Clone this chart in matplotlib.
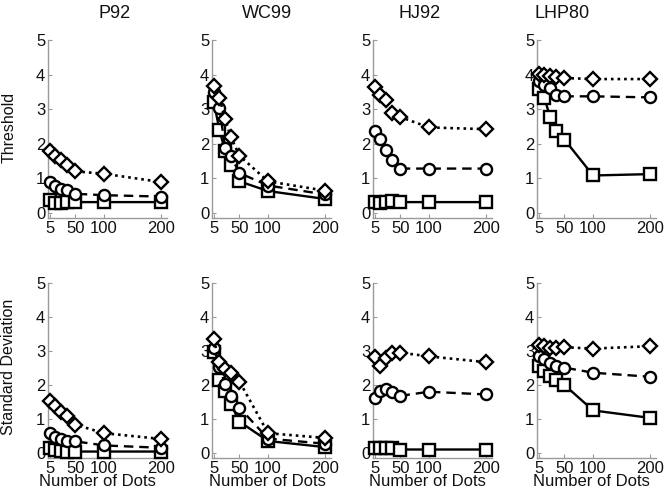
import matplotlib
matplotlib.use("Agg")
import matplotlib.pyplot as plt

plt.rcParams['font.family'] = ['Liberation Sans', 'DejaVu Sans']

x_dots = [5, 15, 25, 35, 50, 100, 200]
studies = ["P92", "WC99", "HJ92", "LHP80"]
row_labels = ["Threshold", "Standard Deviation"]
x_label = "Number of Dots"
x_ticks = [5, 50, 100, 200]
y_ticks = [0, 1, 2, 3, 4, 5]

# Threshold row
thr_square = {
    "P92":   [0.36, 0.27, 0.27, 0.31, 0.31, 0.31, 0.31],
    "WC99":  [3.22, 2.40, 1.78, 1.38, 0.91, 0.63, 0.40],
    "HJ92":  [0.31, 0.27, 0.31, 0.33, 0.31, 0.31, 0.31],
    "LHP80": [3.58, 3.32, 2.77, 2.38, 2.12, 1.08, 1.12],
}
thr_circle = {
    "P92":   [0.88, 0.77, 0.70, 0.66, 0.55, 0.51, 0.47],
    "WC99":  [3.50, 3.03, 1.88, 1.63, 1.15, 0.79, 0.53],
    "HJ92":  [2.36, 2.13, 1.83, 1.52, 1.28, 1.28, 1.28],
    "LHP80": [3.80, 3.70, 3.60, 3.41, 3.37, 3.37, 3.34],
}
thr_diamond = {
    "P92":   [1.78, 1.65, 1.54, 1.38, 1.20, 1.13, 0.89],
    "WC99":  [3.67, 3.32, 2.71, 2.19, 1.65, 0.91, 0.64],
    "HJ92":  [3.63, 3.42, 3.27, 2.90, 2.77, 2.47, 2.42],
    "LHP80": [4.02, 3.99, 3.96, 3.93, 3.90, 3.87, 3.87],
}
# Standard deviation row
sd_square = {
    "P92":   [0.14, 0.10, 0.07, 0.04, 0.04, 0.04, 0.04],
    "WC99":  [2.96, 2.15, 1.83, 1.44, 0.92, 0.35, 0.17],
    "HJ92":  [0.13, 0.13, 0.13, 0.13, 0.10, 0.10, 0.10],
    "LHP80": [2.56, 2.41, 2.27, 2.14, 2.00, 1.25, 1.03],
}
sd_circle = {
    "P92":   [0.60, 0.46, 0.40, 0.36, 0.34, 0.22, 0.15],
    "WC99":  [3.10, 2.52, 2.02, 1.67, 1.33, 0.42, 0.27],
    "HJ92":  [1.63, 1.82, 1.88, 1.78, 1.68, 1.80, 1.72],
    "LHP80": [2.85, 2.75, 2.65, 2.56, 2.51, 2.36, 2.24],
}
sd_diamond = {
    "P92":   [1.53, 1.39, 1.19, 1.09, 0.83, 0.58, 0.41],
    "WC99":  [3.35, 2.67, 2.48, 2.34, 2.10, 0.58, 0.44],
    "HJ92":  [2.82, 2.56, 2.78, 2.93, 2.95, 2.84, 2.67],
    "LHP80": [3.19, 3.14, 3.09, 3.09, 3.11, 3.07, 3.14],
}

rows = [(thr_square, thr_circle, thr_diamond), (sd_square, sd_circle, sd_diamond)]

W, H = 669, 499
fig = plt.figure(figsize=(W / 100, H / 100), dpi=100)

lefts_px = [48, 212, 373, 537]
width_px = 119
row_px = [(40, 218), (283, 458)]
title_x_px = [115, 267, 420, 562]
xlabel_x_px = [97, 267, 427, 591]
ylabel_y_px = [127, 367]

spine_col = "#9a9a9a"
text_col = "#111111"

for r, (sq, ci, di) in enumerate(rows):
    top, bot = row_px[r]
    for c, st in enumerate(studies):
        ax = fig.add_axes([lefts_px[c] / W, 1 - bot / H, width_px / W, (bot - top) / H])
        ax.plot(x_dots, sq[st], color='black', ls='-', lw=1.7, marker='s', ms=8,
                mfc='white', mec='black', mew=1.7, zorder=3, clip_on=False)
        ax.plot(x_dots, ci[st], color='black', ls=(0, (4, 2.5)), lw=1.7, marker='o', ms=8,
                mfc='white', mec='black', mew=1.7, zorder=4, clip_on=False)
        ax.plot(x_dots, di[st], color='black', ls=(0, (1, 1.5)), lw=1.9, marker='D', ms=7,
                mfc='white', mec='black', mew=1.7, zorder=5, clip_on=False)
        ax.set_xlim(2, 210)
        ax.set_ylim(-0.15, 5)
        ax.set_xticks(x_ticks)
        ax.set_yticks(y_ticks)
        for s in ['top', 'right']:
            ax.spines[s].set_visible(False)
        for s in ['left', 'bottom']:
            ax.spines[s].set_color(spine_col)
            ax.spines[s].set_linewidth(1.0)
        ax.tick_params(direction='in', length=3, color=spine_col, labelsize=12,
                       labelcolor=text_col, pad=2)
        if r == 0:
            fig.text(title_x_px[c] / W, 1 - 14 / H, st, ha='center', va='center',
                     fontsize=13, color=text_col)
        else:
            fig.text(xlabel_x_px[c] / W, 1 - 482 / H, x_label, ha='center', va='center',
                     fontsize=12, color=text_col)
    fig.text(9 / W, 1 - ylabel_y_px[r] / H, row_labels[r], rotation=90,
             ha='center', va='center', fontsize=11.5, color=text_col)

fig.savefig("out.png", dpi=100)
